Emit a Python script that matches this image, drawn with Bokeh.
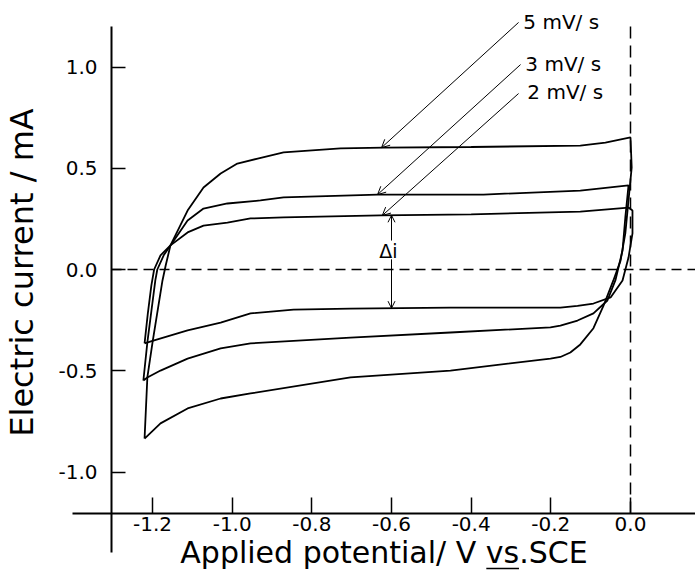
import numpy as np
from bokeh.plotting import figure
from bokeh.models import Arrow, OpenHead, Label, CustomJSTickFormatter, LinearAxis, FixedTicker
from bokeh.embed import file_html
from bokeh.resources import INLINE

FONT = "DejaVu Sans"

# ---- ticks and texts ----
x_ticks = [-1.2, -1.0, -0.8, -0.6, -0.4, -0.2, 0.0]
y_ticks = [-1.0, -0.5, 0.0, 0.5, 1.0]
x_title = "Applied potential/ V vs.SCE"
y_title = "Electric current / mA"
rate_labels = ["5 mV/ s", "3 mV/ s", "2 mV/ s"]
delta_label = "Δi"

# ---- 2 mV/s loop ----
up2_x = [-1.220, -1.212, -1.203, -1.196, -1.180, -1.155, -1.112, -1.072, -1.012, -0.954, -0.871, -0.628, -0.400, -0.126, -0.005]
up2_y = [-0.365, -0.220, -0.080, 0.000, 0.070, 0.119, 0.183, 0.217, 0.232, 0.252, 0.257, 0.267, 0.272, 0.286, 0.306]
dn2_x = [-0.005, 0.005, 0.005, -0.005, -0.020, -0.050, -0.093, -0.133, -0.176, -0.201, -0.452, -0.703, -0.846, -0.954, -1.029, -1.112, -1.198, -1.220]
dn2_y = [0.306, 0.291, 0.178, 0.059, -0.054, -0.138, -0.168, -0.180, -0.188, -0.188, -0.188, -0.193, -0.198, -0.217, -0.262, -0.301, -0.351, -0.365]

# ---- 3 mV/s loop ----
up3_x = [-1.223, -1.213, -1.193, -1.188, -1.172, -1.155, -1.112, -1.072, -1.012, -0.929, -0.871, -0.635, -0.369, -0.126, -0.005]
up3_y = [-0.548, -0.360, -0.054, 0.000, 0.070, 0.119, 0.242, 0.301, 0.326, 0.341, 0.356, 0.370, 0.370, 0.390, 0.415]
dn3_x = [-0.005, -0.013, -0.020, -0.038, -0.058, -0.093, -0.133, -0.176, -0.201, -0.452, -0.703, -0.954, -1.029, -1.112, -1.180, -1.213, -1.223]
dn3_y = [0.415, 0.257, 0.094, -0.054, -0.153, -0.217, -0.252, -0.277, -0.286, -0.311, -0.336, -0.365, -0.390, -0.440, -0.499, -0.533, -0.548]

# ---- 5 mV/s loop ----
up5_x = [-1.220, -1.213, -1.200, -1.175, -1.167, -1.155, -1.112, -1.072, -1.029, -0.987, -0.936, -0.871, -0.728, -0.620, -0.400, -0.126, -0.063, 0.000]
up5_y = [-0.835, -0.533, -0.360, -0.054, 0.020, 0.119, 0.291, 0.405, 0.474, 0.523, 0.548, 0.578, 0.598, 0.602, 0.605, 0.612, 0.627, 0.652]
dn5_x = [0.000, 0.003, -0.005, -0.013, -0.025, -0.043, -0.068, -0.093, -0.126, -0.151, -0.176, -0.201, -0.452, -0.703, -0.954, -1.029, -1.112, -1.180, -1.220]
dn5_y = [0.652, 0.504, 0.341, 0.178, 0.044, -0.054, -0.180, -0.290, -0.370, -0.410, -0.432, -0.440, -0.499, -0.533, -0.612, -0.637, -0.686, -0.760, -0.835]


def at(xs, ys, x0):
    for i in range(len(xs) - 1):
        a, b = xs[i], xs[i + 1]
        if a != b and min(a, b) <= x0 <= max(a, b):
            t = (x0 - a) / (b - a)
            return ys[i] + t * (ys[i + 1] - ys[i])
    return 0.0


# axis geometry (data units)
X_MIN, X_MAX = -1.5817, 0.1632
Y_MIN, Y_MAX = -1.5012, 1.3284
X_SPINE = -1.303      # where the current axis crosses
Y_SPINE = -1.205      # where the potential axis crosses
X_LEFT = -1.401       # left end of the potential axis line
Y_TOP = 1.2           # top end of the current axis line
Y_LOW = -1.398        # bottom end of the current axis line

p = figure(width=695, height=573, x_range=(X_MIN, X_MAX), y_range=(Y_MIN, Y_MAX),
           output_backend="svg", toolbar_location=None,
           min_border_left=0, min_border_right=0, min_border_top=0, min_border_bottom=0)
p.outline_line_color = None
p.grid.visible = False
p.background_fill_color = "white"
p.border_fill_color = "white"

for ux, uy, dx, dy in [(up5_x, up5_y, dn5_x, dn5_y), (up3_x, up3_y, dn3_x, dn3_y), (up2_x, up2_y, dn2_x, dn2_y)]:
    p.line(ux + dx, uy + dy, line_color="black", line_width=1.8)

# zero lines
p.line([X_SPINE, X_MAX], [0, 0], line_dash="10 6", line_width=1.5, line_color="black")
p.line([0, 0], [Y_SPINE, Y_TOP], line_dash="12 7", line_width=1.5, line_color="black")

fmt = "return tick.toFixed(1);"
for ax in (p.xaxis[0], p.yaxis[0]):
    ax.axis_line_width = 2
    ax.axis_line_color = "black"
    ax.major_tick_line_width = 1.5
    ax.major_tick_line_color = "black"
    ax.minor_tick_line_color = None
    ax.major_tick_out = 0
    ax.major_label_text_font = FONT
    ax.major_label_text_font_size = "20px"
    ax.major_label_text_color = "black"
    ax.formatter = CustomJSTickFormatter(code=fmt)
    ax.axis_label_text_font = FONT
    ax.axis_label_text_font_style = "normal"
    ax.axis_label_text_color = "black"

xa = p.xaxis[0]
xa.fixed_location = Y_SPINE
xa.bounds = (X_LEFT, X_MAX)
xa.ticker = x_ticks
xa.major_tick_in = 16
xa.major_label_standoff = 3
xa.axis_label = x_title
xa.axis_label_text_font_size = "30px"
xa.axis_label_standoff = 1

ya = p.yaxis[0]
ya.fixed_location = X_SPINE
ya.ticker = y_ticks
ya.bounds = (-1.23, Y_TOP)
ya.axis_line_color = None
ya.major_tick_in = 14
ya.major_label_standoff = 14
ya.axis_label = y_title
ya.axis_label_text_font_size = "32px"
ya.axis_label_standoff = 14

# the current-axis line itself, running below the potential axis
spine = LinearAxis(fixed_location=X_SPINE, bounds=(Y_LOW, Y_TOP), ticker=FixedTicker(ticks=[]),
                   axis_line_width=2, axis_line_color="black", major_tick_line_color=None,
                   minor_tick_line_color=None, major_label_text_font_size="0px")
p.add_layout(spine, "left")

# underline of "vs"
p.add_layout(Arrow(end=None, x_start=-0.362, x_end=-0.280, y_start=-1.4765, y_end=-1.4765, line_width=1.5))

# rate callouts
label_pos = [(-0.269, 1.222), (-0.264, 1.017), (-0.259, 0.879)]
arrow_start = [(-0.281, 1.220), (-0.276, 1.012), (-0.281, 0.869)]
tip_x = [-0.625, -0.635, -0.623]
branches = [(up5_x, up5_y), (up3_x, up3_y), (up2_x, up2_y)]
for lab, (lx, ly), (sx, sy), tx, (bx, by) in zip(rate_labels, label_pos, arrow_start, tip_x, branches):
    ty = at(bx, by, tx)
    p.add_layout(Arrow(end=OpenHead(size=8, line_width=1), x_start=sx, y_start=sy, x_end=tx, y_end=ty, line_width=1))
    p.add_layout(Label(x=lx, y=ly, text=lab, text_align="left", text_baseline="middle",
                       text_font=FONT, text_font_size="20px", text_color="black"))

# delta i
dx0 = -0.600
top_i = at(up2_x, up2_y, dx0)
bot_i = at(dn2_x, dn2_y, dx0)
p.add_layout(Arrow(end=OpenHead(size=7, line_width=1), x_start=dx0, y_start=0.143, x_end=dx0, y_end=top_i, line_width=1))
p.add_layout(Arrow(end=OpenHead(size=7, line_width=1), x_start=dx0, y_start=0.050, x_end=dx0, y_end=bot_i, line_width=1))
p.add_layout(Label(x=-0.608, y=0.090, text=delta_label, text_align="center", text_baseline="middle",
                   text_font=FONT, text_font_size="19px", text_color="black"))

open("out.html", "w").write(file_html(p, INLINE))
